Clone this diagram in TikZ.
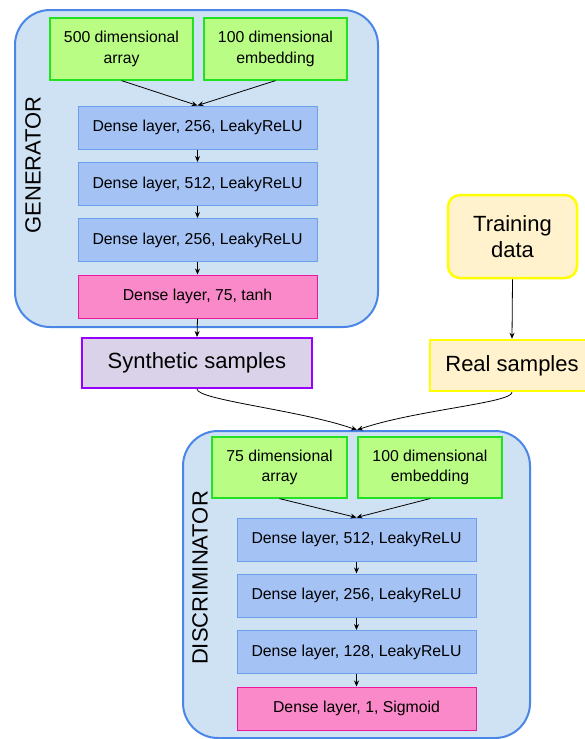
\documentclass[tikz,border=0pt]{standalone}
\usepackage{fontspec}
\setmainfont{Liberation Sans}
\usetikzlibrary{arrows.meta}
\definecolor{panelfill}{HTML}{CFE2F3}
\definecolor{panelline}{HTML}{4A86E8}
\definecolor{inpfill}{HTML}{B9FD84}
\definecolor{inpline}{HTML}{22E022}
\definecolor{densefill}{HTML}{A4C2F4}
\definecolor{denseline}{HTML}{6D9EEB}
\definecolor{outfill}{HTML}{F989C8}
\definecolor{outline}{HTML}{F0169E}
\definecolor{synfill}{HTML}{D9D2E9}
\definecolor{synline}{HTML}{9900FF}
\definecolor{realfill}{HTML}{FFF2CC}
\definecolor{realline}{HTML}{FFFF00}
\tikzset{
  panel/.style={draw=panelline, fill=panelfill, line width=2pt, rounded corners=35pt, inner sep=0pt},
  inpbox/.style={draw=inpline, fill=inpfill, line width=1.2pt, minimum width=#1, minimum height=62pt, inner sep=0pt, align=center, font=\fontsize{15.8}{20.5}\selectfont},
  densebox/.style={draw=denseline, fill=densefill, line width=1pt, minimum width=239pt, minimum height=43pt, inner sep=0pt, font=\fontsize{15.8}{20.5}\selectfont},
  outbox/.style={draw=outline, fill=outfill, line width=1pt, minimum width=239pt, minimum height=43pt, inner sep=0pt, font=\fontsize{15.8}{20.5}\selectfont},
  bigtext/.style={font=\fontsize{22}{26.7}\selectfont},
  sidelabel/.style={rotate=90, font=\fontsize{22}{26}\selectfont, inner sep=0pt},
  arr/.style={line width=0.8pt, -{Stealth[length=6pt,width=5pt]}}
}
\begin{document}
\begin{tikzpicture}[x=1pt,y=-1pt]
\useasboundingbox (0,0) rectangle (584,739);
% Generator
\node[panel, minimum width=363pt, minimum height=317pt] (gen) at (196.5,168.5) {};
\node[sidelabel] (genlab) at (33,165) {GENERATOR};
\node[inpbox=143pt] (gin1) at (121.5,49) {500 dimensional\\array};
\node[inpbox=143pt] (gin2) at (275.5,49) {100 dimensional\\embedding};
\node[densebox] (g1) at (197.5,127.5) {Dense layer, 256, LeakyReLU};
\node[densebox] (g2) at (197.5,184) {Dense layer, 512, LeakyReLU};
\node[densebox] (g3) at (197.5,240) {Dense layer, 256, LeakyReLU};
\node[outbox] (g4) at (197.5,296.5) {Dense layer, 75, tanh};
\draw[arr] (gin1.south) -- (g1.north);
\draw[arr] (gin2.south) -- (g1.north);
\draw[arr] (g1) -- (g2);
\draw[arr] (g2) -- (g3);
\draw[arr] (g3) -- (g4);
% Synthetic samples
\node[draw=synline, fill=synfill, line width=2pt, minimum width=230pt, minimum height=50pt, inner sep=0pt, bigtext] (syn) at (197,363) {Synthetic samples};
\draw[arr] (g4.south) -- (syn.north);
% Training / real
\node[draw=realline, fill=realfill, line width=2.5pt, rounded corners=12pt, minimum width=129pt, minimum height=83pt, inner sep=0pt, align=center, bigtext] (train) at (512.5,236.5) {Training\\data};
\node[draw=realline, fill=realfill, line width=2.5pt, minimum width=164pt, minimum height=51pt, inner sep=0pt, bigtext] (real) at (512,365.5) {Real samples};
\draw[arr] (train.south) -- (real.north);
% Discriminator
\node[panel, minimum width=347pt, minimum height=307pt] (disc) at (356.5,584.5) {};
\coordinate (dtop) at (357,430);
\draw[arr] (syn.south) .. controls (197,400) and (300,410) .. (dtop);
\draw[arr] (real.south) .. controls (512,403) and (415,410) .. (dtop);
\node[sidelabel] (disclab) at (200,578) {DISCRIMINATOR};
\node[inpbox=135pt, minimum height=61pt] (din1) at (279.5,467.5) {75 dimensional\\array};
\node[inpbox=144pt, minimum height=61pt] (din2) at (430,467.5) {100 dimensional\\embedding};
\node[densebox] (d1) at (356.5,539.5) {Dense layer, 512, LeakyReLU};
\node[densebox] (d2) at (356.5,595.5) {Dense layer, 256, LeakyReLU};
\node[densebox] (d3) at (356.5,652) {Dense layer, 128, LeakyReLU};
\node[outbox] (d4) at (356.5,708.5) {Dense layer, 1, Sigmoid};
\draw[arr] (din1.south) -- (d1.north);
\draw[arr] (din2.south) -- (d1.north);
\draw[arr] (d1) -- (d2);
\draw[arr] (d2) -- (d3);
\draw[arr] (d3) -- (d4);
\end{tikzpicture}
\end{document}
